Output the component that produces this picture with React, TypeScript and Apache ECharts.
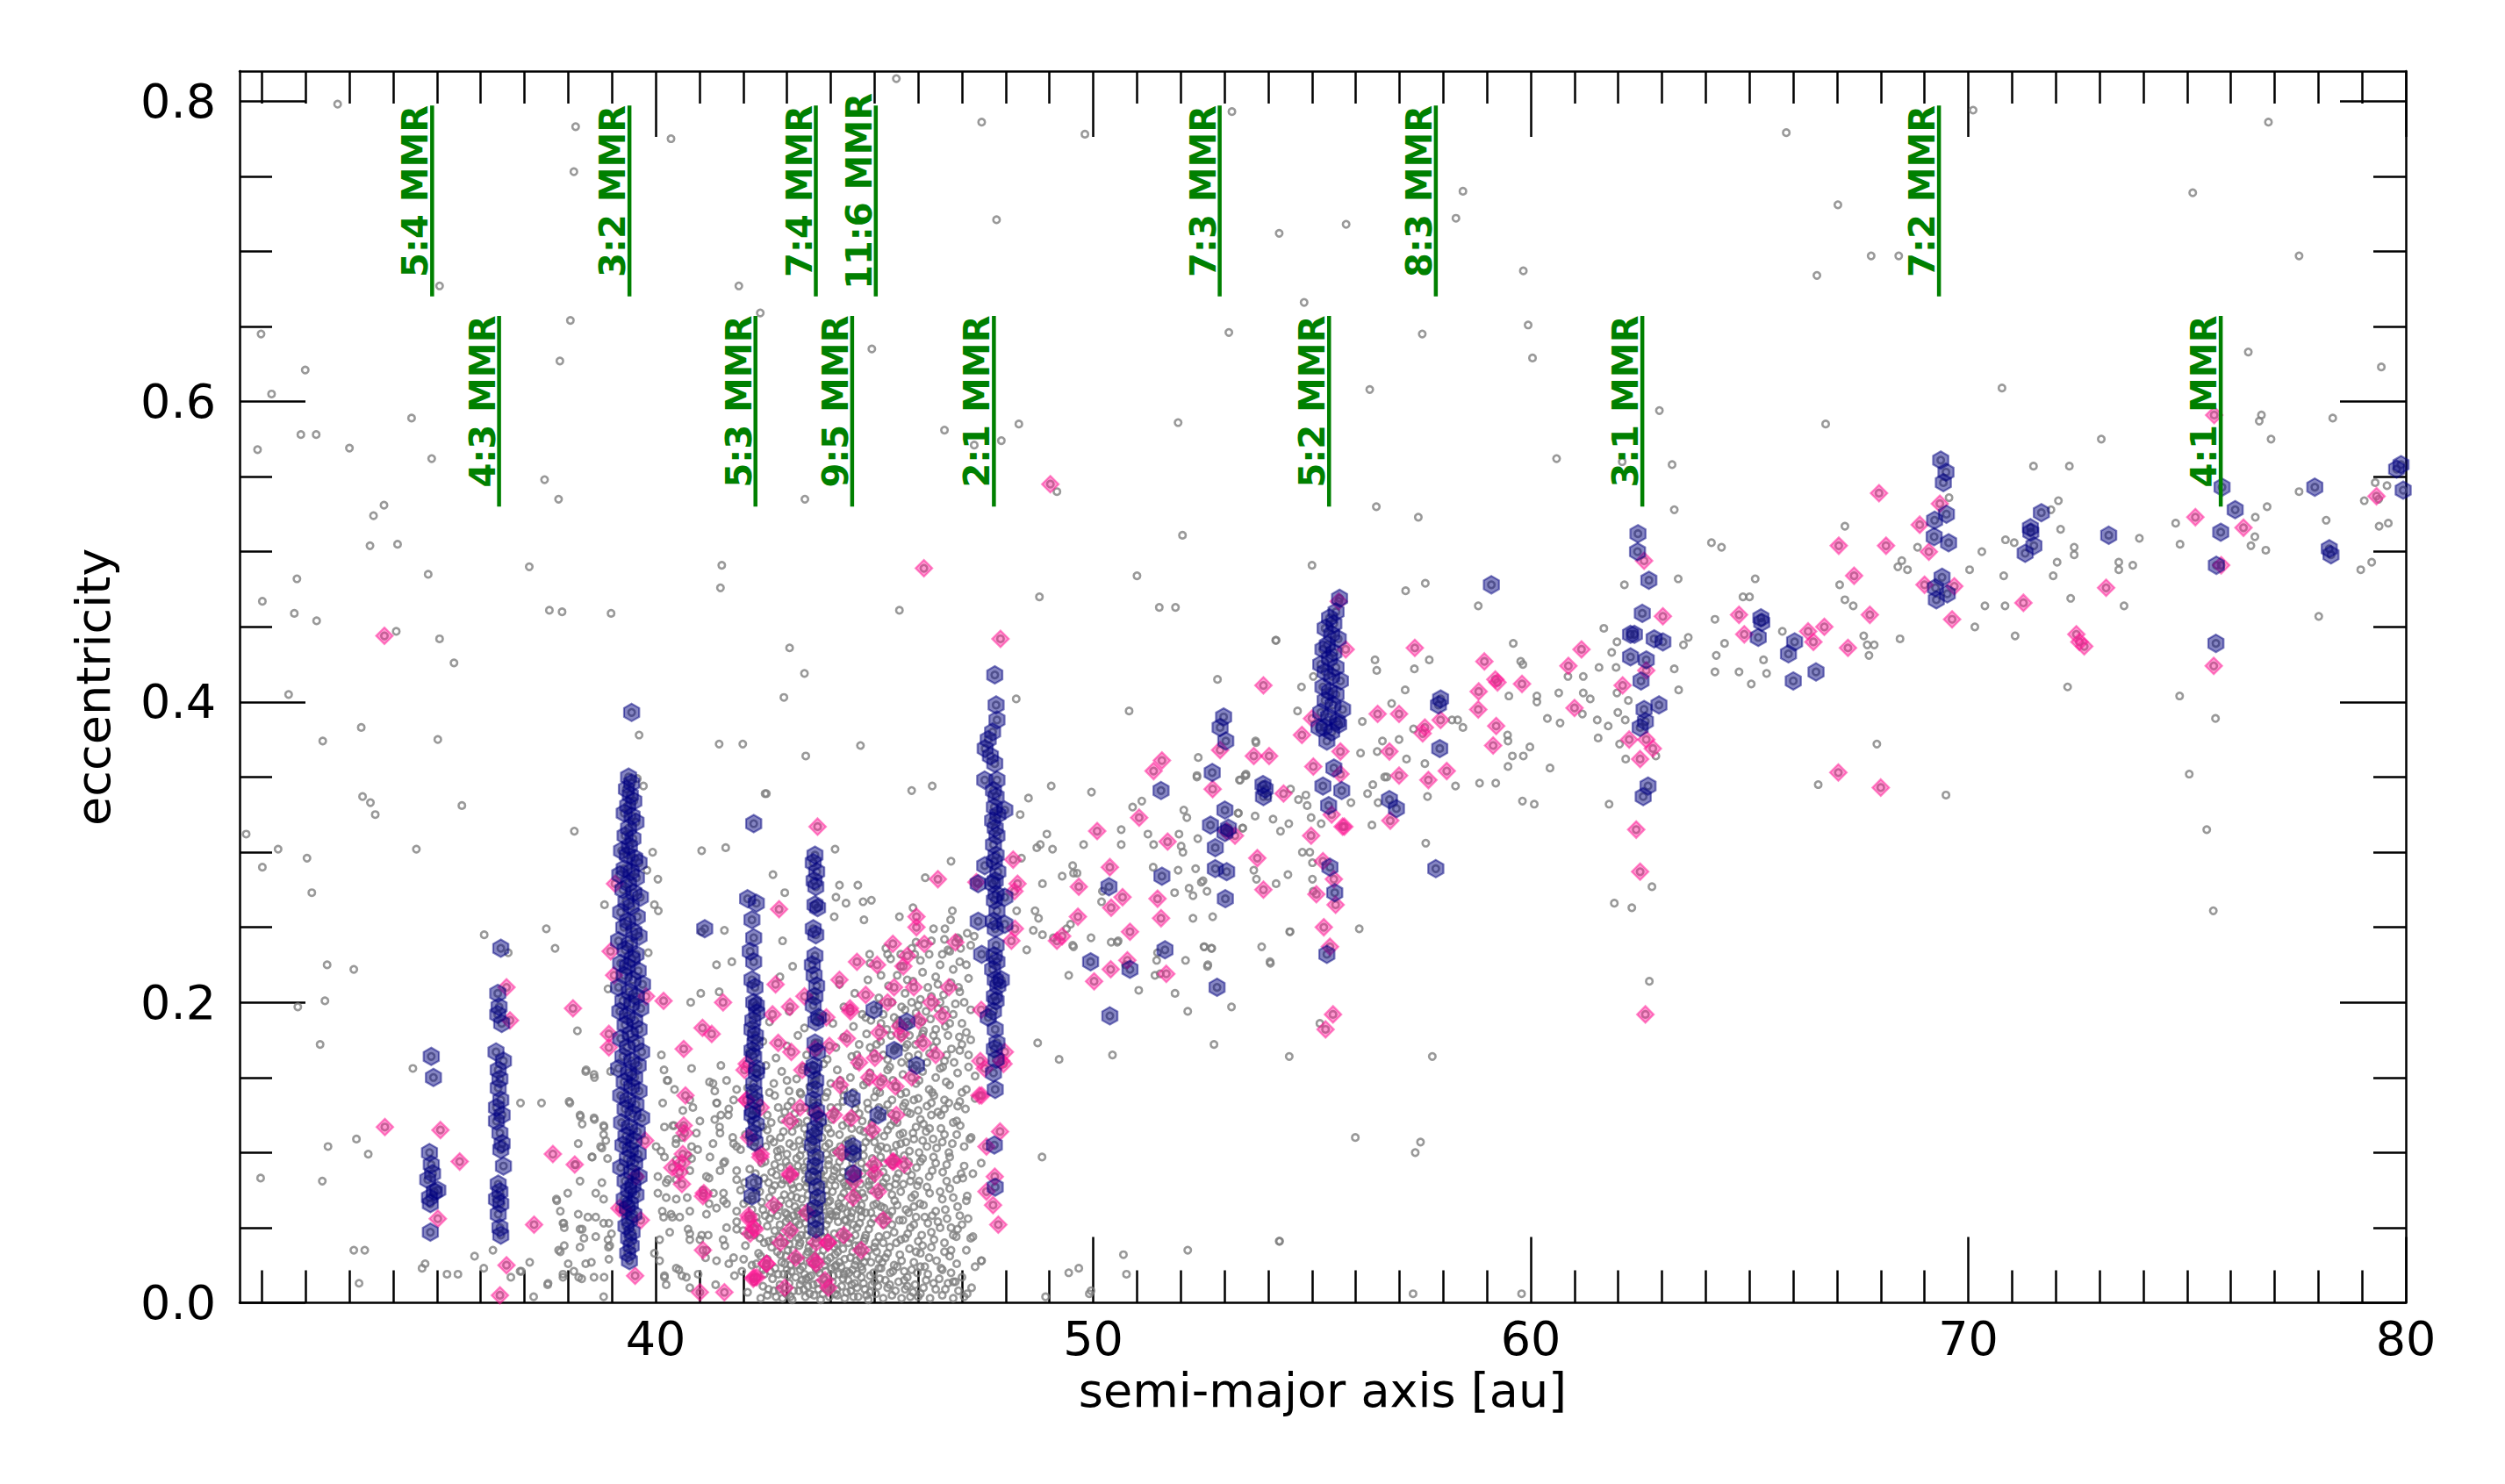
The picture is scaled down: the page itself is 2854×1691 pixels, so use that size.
import React, { useEffect, useRef } from "react";
import * as echarts from "echarts";

// ---------- axis / tick values ----------
const xMin = 30.49;
const xMax = 80;
const yMin = 0;
const yMax = 0.82;
const xMajorTicks = [40, 50, 60, 70, 80];
const xMinorTicks = [31, 32, 33, 34, 35, 36, 37, 38, 39, 41, 42, 43, 44, 45, 46, 47, 48, 49, 51, 52, 53, 54, 55, 56, 57, 58, 59, 61, 62, 63, 64, 65, 66, 67, 68, 69, 71, 72, 73, 74, 75, 76, 77, 78, 79];
const yMajorTicks = [0, 0.2, 0.4, 0.6, 0.8];
const yMinorTicks = [0.05, 0.1, 0.15, 0.25, 0.3, 0.35, 0.45, 0.5, 0.55, 0.65, 0.7, 0.75];

// ---------- mean-motion resonances ----------
const mmrLabels = ["5:4", "4:3", "3:2", "5:3", "7:4", "9:5", "11:6", "2:1", "7:3", "5:2", "8:3", "3:1", "7:2", "4:1"];
const mmrA = [34.89, 36.42, 39.4, 42.28, 43.66, 44.49, 45.03, 47.73, 52.89, 55.39, 57.83, 62.55, 69.33, 75.77];
const mmrRow = [0, 1, 0, 1, 0, 1, 0, 1, 0, 1, 0, 1, 0, 1];
const mmrLineLo = [0.67, 0.53];
const mmrLineHi = [0.797, 0.657];
const mmrTextMid = [0.74, 0.6];

// ---------- resonant objects (blue hexagons) ----------
const blue54 = [[34.87,0.164],[34.92,0.150],[34.83,0.100],[34.87,0.092],[34.90,0.086],[34.94,0.074],[34.83,0.070],[34.85,0.066],[34.85,0.047],[34.79,0.082],[35.02,0.075]];
const blue43 = [[36.46,0.236],[36.39,0.206],[36.42,0.197],[36.39,0.192],[36.48,0.186],[36.35,0.167],[36.52,0.161],[36.40,0.155],[36.44,0.149],[36.40,0.143],[36.46,0.135],[36.36,0.130],[36.49,0.125],[36.36,0.121],[36.44,0.113],[36.49,0.106],[36.46,0.102],[36.52,0.091],[36.40,0.079],[36.44,0.074],[36.36,0.069],[36.46,0.066],[36.40,0.059],[36.44,0.050],[36.46,0.045]];
const blue32 = [[39.38,0.350],[39.45,0.346],[39.33,0.342],[39.42,0.338],[39.50,0.334],[39.36,0.331],[39.28,0.326],[39.46,0.324],[39.55,0.320],[39.38,0.316],[39.30,0.311],[39.48,0.309],[39.40,0.304],
[39.22,0.301],[39.35,0.298],[39.52,0.296],[39.62,0.293],[39.28,0.289],[39.44,0.287],[39.18,0.285],[39.56,0.283],[39.38,0.279],[39.25,0.275],[39.50,0.273],[39.65,0.270],[39.32,0.267],[39.44,0.264],[39.20,0.260],[39.58,0.257],[39.36,0.254],[39.27,0.250],[39.50,0.247],[39.62,0.244],[39.15,0.241],[39.40,0.239],[39.30,0.235],[39.55,0.232],[39.46,0.229],
[39.20,0.226],[39.35,0.224],[39.60,0.221],[39.28,0.218],[39.48,0.215],[39.70,0.212],[39.15,0.210],[39.40,0.207],[39.56,0.204],[39.25,0.201],[39.45,0.199],[39.66,0.196],[39.18,0.194],[39.35,0.191],[39.52,0.188],[39.30,0.185],[39.62,0.182],[39.42,0.179],[39.20,0.176],[39.55,0.173],[39.35,0.170],[39.68,0.167],[39.25,0.164],[39.45,0.161],[39.60,0.158],[39.15,0.156],[39.38,0.153],[39.52,0.150],
[39.28,0.147],[39.45,0.144],[39.62,0.141],[39.20,0.138],[39.36,0.135],[39.55,0.132],[39.30,0.129],[39.48,0.126],[39.68,0.123],[39.22,0.120],[39.40,0.117],[39.58,0.114],[39.32,0.111],[39.50,0.108],[39.25,0.105],[39.42,0.102],[39.60,0.099],[39.35,0.096],[39.52,0.093],[39.20,0.090],[39.45,0.087],[39.62,0.084],[39.30,0.081],[39.48,0.078],[39.38,0.075],[39.55,0.072],[39.28,0.069],
[39.42,0.066],[39.35,0.063],[39.50,0.059],[39.40,0.055],[39.32,0.051],[39.46,0.047],[39.38,0.043],[39.44,0.038],[39.36,0.033],[39.40,0.028],
[39.45,0.393],[41.12,0.249],[42.24,0.319]];
const blue53 = [[42.10,0.269],[42.30,0.266],[42.20,0.255],[42.24,0.243],[42.16,0.234],[42.24,0.227],[42.20,0.215],[42.27,0.210],[42.24,0.200],[42.31,0.193],[42.20,0.182],[42.27,0.173],[42.24,0.164],[42.31,0.156],[42.24,0.146],[42.27,0.135],[42.20,0.125],[42.24,0.113],[42.27,0.107],[42.24,0.080],[42.20,0.071],
[42.30,0.198],[42.22,0.188],[42.28,0.178],[42.20,0.168],[42.30,0.153],[42.25,0.140],[42.22,0.128],[42.30,0.119]];
const blue74 = [[43.64,0.298],[43.60,0.293],[43.68,0.287],[43.62,0.281],[43.66,0.277],[43.64,0.265],[43.70,0.263],[43.60,0.249],[43.66,0.245],[43.64,0.231],[43.62,0.218],[43.68,0.211],[43.64,0.204],[43.60,0.198],[43.66,0.187],[43.64,0.173],[43.70,0.167],[43.62,0.158],[43.66,0.148],[43.64,0.142],[43.60,0.135],[43.68,0.128],[43.64,0.116],[43.62,0.111],[43.66,0.097],[43.64,0.091],[43.60,0.084],[43.68,0.077],[43.64,0.063],[43.66,0.049],
[43.58,0.225],[43.72,0.190],[43.58,0.155],[43.72,0.122],[43.58,0.105],[43.70,0.070],[43.66,0.056]];
const blue95 = [[44.51,0.104],[44.51,0.099],[44.51,0.086],[44.49,0.136],[45.08,0.125],[44.99,0.195],[45.74,0.187],[45.45,0.168],[45.96,0.158]];
const blue21 = [[47.75,0.359],[47.80,0.348],[47.72,0.341],[47.78,0.337],[47.74,0.330],[47.82,0.325],[47.70,0.321],[47.76,0.316],[47.80,0.311],[47.72,0.305],[47.78,0.298],[47.74,0.294],[47.82,0.287],[47.76,0.281],[47.70,0.279],[47.78,0.272],[47.74,0.268],[47.80,0.261],[47.72,0.254],[47.76,0.249],[47.78,0.238],[47.74,0.231],[47.80,0.227],[47.70,0.222],[47.76,0.215],[47.82,0.211],[47.74,0.204],[47.78,0.201],[47.72,0.194],[47.76,0.182],[47.80,0.173],[47.74,0.169],[47.78,0.162],[47.72,0.153],[47.76,0.142],[47.74,0.105],[47.76,0.077],
[47.37,0.279],[47.37,0.254],[47.98,0.328],[47.98,0.270],[47.98,0.252],[47.52,0.348],[47.52,0.291],[47.45,0.232],[47.90,0.215],[47.60,0.190],
[47.75,0.418],[47.78,0.398],[47.53,0.369],[47.60,0.375],[47.70,0.380],[47.80,0.388],[47.65,0.364]];
const blue52 = [[55.63,0.469],[55.55,0.460],[55.40,0.456],[55.50,0.452],[55.30,0.449],[55.45,0.445],[55.60,0.442],[55.35,0.438],[55.25,0.435],[55.50,0.433],[55.40,0.429],[55.20,0.425],[55.55,0.423],[55.30,0.420],[55.45,0.417],[55.65,0.414],[55.25,0.410],[55.40,0.407],[55.55,0.405],[55.30,0.401],[55.48,0.398],[55.70,0.395],[55.20,0.393],[55.38,0.390],[55.58,0.387],[55.28,0.383],[55.45,0.380],[55.61,0.385],[55.34,0.374],[55.16,0.383],
[55.38,0.331],[55.25,0.344],[55.50,0.356],[55.68,0.341],[55.41,0.290],[55.52,0.273],[55.34,0.232]];
const blueMid = [[52.98,0.390],[52.90,0.383],[53.03,0.374],[52.72,0.353],[53.01,0.328],[52.68,0.318],[53.09,0.316],[53.01,0.313],[52.79,0.303],[52.79,0.289],[53.05,0.287],[53.02,0.269],[52.83,0.210],[53.88,0.345],[53.93,0.342],[53.89,0.337],
[57.94,0.402],[57.89,0.398],[57.92,0.369],[57.83,0.289],[59.10,0.478],[56.77,0.335],[56.93,0.329],
[50.36,0.277],[51.55,0.341],[51.57,0.284],[51.64,0.235],[50.84,0.222],[49.94,0.227],[50.38,0.191]];
const blueFar = [[62.45,0.512],[62.44,0.500],[62.70,0.481],[62.55,0.459],[62.28,0.445],[62.37,0.445],[62.82,0.442],[63.02,0.440],[62.28,0.430],[62.64,0.428],[62.52,0.414],[62.93,0.398],[62.59,0.395],[62.62,0.387],[62.50,0.383],[62.68,0.344],[62.57,0.337],
[65.26,0.456],[65.28,0.453],[65.20,0.443],[66.03,0.440],[65.89,0.432],[66.00,0.414],[66.52,0.420],
[69.37,0.561],[69.49,0.553],[69.43,0.546],[69.50,0.525],[69.23,0.521],[69.55,0.506],[69.22,0.510],[69.40,0.483],[69.25,0.476],[69.52,0.472],[69.27,0.468],
[71.67,0.526],[71.42,0.516],[71.43,0.513],[71.50,0.504],[71.30,0.499],[73.21,0.511],
[75.80,0.543],[76.10,0.528],[75.77,0.513],[75.67,0.491],[75.66,0.439],[77.92,0.543],[78.25,0.502],[78.29,0.498],[79.79,0.555],[79.89,0.558],[79.94,0.541]];

// ---------- second class (pink diamonds) ----------
const pinkLeft = [[33.80,0.444],[33.81,0.117],[35.08,0.115],[35.52,0.094],[35.02,0.056],[36.59,0.210],[36.67,0.188],[36.59,0.025],[37.22,0.052],[38.11,0.196],[37.65,0.099],[38.15,0.092],[38.93,0.179],[38.93,0.170],[39.07,0.279],[39.78,0.204],[40.18,0.201],[41.54,0.200],[40.64,0.169],[41.07,0.183],[41.28,0.179],[40.68,0.138],[40.64,0.118],[40.66,0.113],[40.62,0.099],[40.60,0.093],[40.55,0.087],[39.76,0.108],[39.55,0.084],[41.08,0.071],[41.08,0.035],[39.53,0.018],[39.66,0.055],[39.28,0.062],[39.17,0.063],[42.12,0.058],[42.24,0.050],[42.16,0.046],[42.31,0.017],[42.39,0.097],[42.08,0.135],[42.08,0.159],[38.97,0.234],[39.05,0.218],
[36.44,0.005],[40.38,0.090],[40.60,0.079],[41.10,0.073],[41.01,0.007],[41.57,0.007],[42.25,0.017],[42.53,0.026],[43.07,0.086],[43.64,0.028],[43.93,0.040],[44.54,0.086],[44.99,0.092],[45.44,0.094]];
const pinkBelt = [[42.67,0.192],[43.07,0.197],[44.44,0.196],[42.80,0.173],[43.10,0.167],[43.64,0.169],[43.97,0.171],[44.37,0.176],[45.11,0.180],[45.58,0.184],[46.01,0.188],[46.55,0.191],[46.11,0.173],[45.61,0.179],[45.01,0.163],[44.88,0.150],[45.14,0.147],[45.48,0.144],[44.21,0.145],[42.03,0.155],[42.07,0.135],[42.40,0.130],[43.07,0.121],[43.67,0.126],[44.07,0.125],[44.47,0.123],[42.13,0.110],[42.40,0.099],[43.07,0.085],[44.54,0.081],[45.01,0.086],[45.41,0.094],[45.68,0.092],[45.08,0.074],[44.51,0.070],[42.13,0.056],[42.27,0.049],[43.07,0.048],[43.67,0.040],[43.94,0.040],[43.67,0.026],[42.54,0.026],[42.23,0.016],[43.87,0.015],[43.40,0.204],
[43.70,0.317],[42.82,0.262],[46.45,0.282],[45.96,0.257],[45.96,0.250],[45.42,0.239],[46.14,0.239],[44.60,0.227],[45.06,0.225],[45.66,0.224],[45.75,0.231],[45.45,0.210],[42.74,0.212],[44.45,0.194],[46.13,0.489],
[43.30,0.130],[43.90,0.190],[44.20,0.215],[44.80,0.205],[45.30,0.200],[45.90,0.210],[46.30,0.200],[44.65,0.160],[43.45,0.060],[43.20,0.030],[42.85,0.040],[42.70,0.065],[44.25,0.100],[44.95,0.115],[45.50,0.125],[45.85,0.150],[46.40,0.165],[43.95,0.010],[44.30,0.045],[42.95,0.010],[45.20,0.055],[44.70,0.035],[43.35,0.155],[46.70,0.210],[46.85,0.240]];
const pink21 = [[47.33,0.280],[48.27,0.279],[48.17,0.295],[47.44,0.195],[47.98,0.167],[47.90,0.161],[47.52,0.156],[47.40,0.138],[47.87,0.114],[47.56,0.104],[47.75,0.084],[47.56,0.074],[47.71,0.065],[47.83,0.052],[48.13,0.241],[48.21,0.249],[48.20,0.274],[47.88,0.442],[47.42,0.161],[47.45,0.138],[47.95,0.159]];
const pinkRight = [[49.02,0.545],[50.09,0.314],[49.67,0.277],[49.65,0.257],[51.05,0.323],[50.38,0.290],[50.67,0.270],[50.41,0.263],[50.84,0.247],[50.78,0.228],[50.40,0.222],[50.02,0.214],[49.17,0.241],[49.29,0.244],[51.47,0.269],[51.55,0.256],[51.70,0.307],[51.38,0.354],[51.67,0.219],[52.73,0.342],[53.75,0.296],[53.89,0.275],[54.35,0.339],[53.24,0.311],[53.05,0.314],
[53.89,0.411],[51.57,0.361],[52.90,0.368],[53.67,0.364],[54.02,0.364],
[55.27,0.250],[55.41,0.237],[55.48,0.192],[55.31,0.182],
[55.61,0.467],[55.77,0.435],[55.00,0.389],[54.77,0.378],[55.65,0.367],[55.03,0.357],[55.65,0.352],[55.45,0.325],[55.70,0.317],[55.74,0.317],[54.98,0.311],[55.25,0.294],[55.50,0.282],[55.10,0.272],[55.54,0.265],
[57.35,0.436],[56.50,0.392],[56.99,0.392],[56.77,0.367],[56.99,0.351],[57.66,0.348],[58.08,0.354],[57.94,0.388],[57.58,0.383],[57.53,0.379],[56.79,0.321],[58.94,0.427],[58.81,0.407],[59.19,0.415],[59.24,0.413],[59.80,0.412],[58.80,0.395],[59.21,0.384],[59.14,0.371],[60.86,0.424],[61.16,0.435],[61.00,0.396],
[62.59,0.494],[63.02,0.457],[62.10,0.411],[62.64,0.421],[62.25,0.375],[62.64,0.375],[62.79,0.369],[62.50,0.362],[62.41,0.315],[62.50,0.287],[62.62,0.192],
[64.76,0.458],[64.88,0.445],[66.34,0.447],[66.46,0.440],[66.71,0.450],[67.04,0.504],[67.03,0.353],
[67.96,0.539],[69.35,0.532],[68.89,0.518],[69.10,0.500],[69.00,0.478],[69.68,0.477],[69.63,0.455],[71.26,0.466],[72.47,0.445],[72.54,0.440],[72.65,0.437],[73.15,0.476],[75.19,0.523],[76.29,0.516],[75.78,0.491],[75.61,0.424],[79.33,0.537],[67.39,0.484],[68.12,0.504],[67.75,0.458],[67.25,0.436],[68.00,0.343],[75.62,0.591]];

// ---------- all other objects (grey circles) ----------
const grayUpper = [[32.73,0.798],[38.17,0.783],[40.35,0.775],[38.13,0.753],[35.06,0.677],[41.90,0.677],[42.39,0.659],[30.98,0.645],[38.05,0.654],[44.94,0.635],[31.99,0.621],[37.81,0.627],[31.22,0.605],[34.42,0.589],[31.89,0.578],[32.24,0.578],[30.90,0.568],[33.00,0.569],[34.88,0.562],[37.46,0.548],[37.78,0.535],[33.79,0.531],[33.55,0.524],[43.41,0.535],
[45.50,0.815],[47.45,0.786],[49.81,0.778],[53.17,0.793],[47.79,0.721],[54.25,0.712],[55.78,0.718],[58.45,0.740],[58.29,0.722],[59.83,0.687],[54.82,0.666],[53.10,0.646],[57.52,0.645],[59.94,0.651],[60.04,0.629],[56.32,0.608],[62.94,0.594],[46.60,0.581],[48.30,0.585],[47.28,0.571],[47.90,0.574],[51.94,0.586],[60.59,0.562],[62.09,0.560],[63.23,0.558],[49.17,0.540],[56.47,0.530],[57.43,0.523],[63.28,0.528],
[65.84,0.779],[70.11,0.794],[76.86,0.786],[67.02,0.731],[75.13,0.739],[67.78,0.697],[68.41,0.697],[66.54,0.684],[77.56,0.697],[76.40,0.633],[79.44,0.623],[70.77,0.609],[76.70,0.591],[76.65,0.587],[78.33,0.589],[76.92,0.575],[66.74,0.585],[73.04,0.575],[71.49,0.557],[72.31,0.557],[72.06,0.534],[71.89,0.528],[77.56,0.540],[79.30,0.546],[79.57,0.544],[79.05,0.534],[79.38,0.535],[76.56,0.523],[76.83,0.530],[74.74,0.519],[78.18,0.521],[79.39,0.517],[79.60,0.519]];
const grayMid = [[52.04,0.511],[41.51,0.491],[41.48,0.476],[51.00,0.484],[45.57,0.461],[48.77,0.470],[51.51,0.463],[51.88,0.463],[43.06,0.436],[43.40,0.419],[42.93,0.403],[54.18,0.441],[52.84,0.415],[50.82,0.394],[48.24,0.402],[39.62,0.378],[41.45,0.372],[41.99,0.372],[44.68,0.371],[43.43,0.364],[53.72,0.373],[52.40,0.363],[52.37,0.350],[53.47,0.351],
[33.47,0.504],[34.10,0.505],[37.11,0.490],[31.80,0.482],[34.80,0.485],[31.01,0.467],[31.74,0.459],[32.25,0.454],[37.57,0.461],[37.86,0.460],[38.98,0.459],[34.07,0.447],[35.06,0.442],[35.39,0.426],[31.61,0.405],[33.27,0.383],[32.39,0.374],[35.02,0.375],[33.30,0.337],[33.48,0.333],[33.59,0.325],[35.57,0.331],[30.64,0.312],[31.37,0.302],[31.01,0.290],[32.03,0.296],[32.14,0.273],[34.53,0.302],[38.14,0.314],[36.08,0.245],[37.50,0.249],[37.70,0.236],[38.83,0.265]];
const grayLeft = [[32.49,0.225],[33.10,0.222],[32.44,0.201],[31.82,0.197],[32.33,0.172],[34.45,0.156],[32.51,0.104],[33.16,0.109],[33.43,0.099],[30.97,0.083],[32.38,0.081],[33.10,0.035],[33.35,0.035],[33.22,0.013],[34.66,0.023],[34.73,0.026],[35.23,0.019],[35.48,0.019],[35.86,0.031],[36.07,0.023],[36.28,0.035],[36.63,0.233],[36.91,0.133],[37.39,0.133],[38.21,0.181],[38.40,0.154],[38.60,0.150],[38.97,0.154],[38.91,0.209],[39.58,0.349],[39.72,0.344],[39.93,0.300],[39.80,0.288],[40.05,0.282],[39.97,0.265],[40.06,0.261],[39.83,0.233],[41.05,0.301],[41.60,0.303],[41.57,0.248],[41.05,0.247],[41.39,0.225],[41.74,0.227],[42.50,0.339],[41.03,0.206],[40.80,0.200],[41.45,0.207],[40.13,0.165],[40.82,0.156],[40.26,0.148],
[36.93,0.021],[37.12,0.027],[37.21,0.004],[37.54,0.013],[37.82,0.034],[38.02,0.134],[38.27,0.125],[38.41,0.155],[38.59,0.152],[38.59,0.123],[38.32,0.119],[38.81,0.118],[38.81,0.112],[38.86,0.108],[38.23,0.106],[38.54,0.097],[38.90,0.096],[38.77,0.103],[38.27,0.081],[38.77,0.080],[37.73,0.069],[37.82,0.061],[37.88,0.053],[37.91,0.050],[38.27,0.049],[38.63,0.073],[38.81,0.069],[38.45,0.057],[38.81,0.053],[37.91,0.038],[38.27,0.037],[38.36,0.043],[38.63,0.044],[38.91,0.042],[38.95,0.038],[38.00,0.026],[38.40,0.026],[38.13,0.021],[37.88,0.017],[38.31,0.016],[38.81,0.004],
[38.60,0.122],[38.82,0.117],[38.74,0.104],[38.55,0.097],[38.04,0.133],[38.28,0.124],[38.17,0.092],[37.99,0.073],[37.74,0.068],[38.23,0.059],[37.90,0.053],[38.32,0.049],[38.63,0.057],[38.93,0.053],[38.99,0.046],[38.92,0.037],[38.53,0.027],[38.93,0.029],[37.78,0.035],[38.24,0.017],[38.59,0.017],[38.82,0.017],[37.88,0.019],[36.90,0.021],[36.69,0.017],[37.53,0.012]];
const grayInner = [[40.19,0.155],[41.49,0.158],[40.28,0.148],[40.42,0.118],[40.60,0.116],[40.60,0.110],[40.46,0.106],[40.20,0.097],[40.74,0.098],[40.24,0.080],[40.15,0.061],[40.78,0.061],[40.38,0.057],[39.97,0.033],[40.20,0.018],[40.24,0.012],[40.53,0.022],[40.60,0.018],[40.96,0.102],[41.22,0.083],[41.32,0.073],[41.22,0.066],[41.55,0.068],[40.74,0.049],[41.05,0.045],[40.78,0.042],[41.14,0.030],[41.58,0.038],[41.67,0.026],[41.80,0.018],[41.37,0.012],[40.78,0.010],
[41.23,0.147],[41.35,0.141],[41.40,0.133],[41.49,0.125],[41.46,0.117],[41.67,0.129],[41.76,0.110],[41.94,0.102],[41.58,0.094],[41.85,0.088],[42.03,0.080],[41.94,0.075],[42.21,0.069],[41.85,0.061],[42.30,0.057],[41.85,0.049],[42.12,0.045],
[40.01,0.104],[40.20,0.117],[40.39,0.118],[40.47,0.109],[40.12,0.101],[40.05,0.084],[40.28,0.082],[40.47,0.082],[40.05,0.073],[40.24,0.070],[40.47,0.069],[40.18,0.057],[40.35,0.059],[40.55,0.057],[40.09,0.042],[40.32,0.047],[40.78,0.046],[40.09,0.028],[40.20,0.017],[40.47,0.023],[40.70,0.017],[40.97,0.019],[41.01,0.042],[41.20,0.045],[41.16,0.035],[41.54,0.042],[41.78,0.030],[42.01,0.029],[41.39,0.028],[41.97,0.021],[40.72,0.070],[41.08,0.075],[41.16,0.059],[41.39,0.063],[41.62,0.066],[42.01,0.066],[41.85,0.054],[41.62,0.050],[42.16,0.046],[41.16,0.084],[41.47,0.088],[41.85,0.082],[41.55,0.073],[41.24,0.097],[41.55,0.093],[41.85,0.104],[41.31,0.106],[41.47,0.113],[41.78,0.106],[41.35,0.122],[41.66,0.125],[41.39,0.133],[41.78,0.135],[41.31,0.146],[41.62,0.148],[41.85,0.142],[40.85,0.130],[41.01,0.121],[40.62,0.128],[40.16,0.133],[40.43,0.142],[40.78,0.135],[40.93,0.113],[40.82,0.104],[40.82,0.096],[40.47,0.095],[40.78,0.088]];
const grayBelt = [[42.1,0.007],[42.25,0.014],[42.4,0.003],[42.48,0.019],[42.58,0.009],[42.67,0.016],[42.75,0.004],[42.84,0.012],[42.92,0.019],[42.98,0.006],[43.05,0.013],[43.12,0.002],[43.2,0.017],[43.27,0.008],[43.34,0.015],[43.42,0.004],[43.48,0.011],[43.55,0.018],[43.62,0.005],[43.7,0.013],[43.77,0.002],[43.84,0.016],[43.9,0.009],[43.97,0.004],[44.04,0.014],[44.1,0.006],[44.18,0.019],[44.25,0.011],[44.32,0.003],[44.4,0.015],[44.46,0.008],[44.55,0.013],[44.63,0.004],[44.7,0.017],[44.78,0.009],[44.86,0.002],[44.94,0.012],[45.03,0.006],[45.12,0.016],[45.2,0.003],[45.3,0.01],[45.4,0.005],[45.55,0.014],[45.62,0.003],[45.7,0.009],[45.82,0.004],[45.93,0.012],[46.05,0.006],[46.18,0.015],[46.27,0.003],[46.4,0.009],[46.55,0.005],[46.68,0.013],[46.8,0.003],[46.92,0.008],[47.05,0.004],[47.22,0.01],
[42.05,0.038],[42.2,0.025],[42.35,0.033],[42.45,0.022],[42.55,0.029],[42.65,0.037],[42.73,0.023],[42.85,0.032],[42.95,0.026],[43.02,0.035],[43.1,0.021],[43.18,0.029],[43.28,0.038],[43.36,0.024],[43.45,0.032],[43.52,0.027],[43.6,0.036],[43.68,0.022],[43.78,0.031],[43.86,0.025],[43.95,0.038],[44.02,0.023],[44.1,0.032],[44.2,0.027],[44.28,0.036],[44.36,0.021],[44.45,0.03],[44.55,0.025],[44.63,0.035],[44.72,0.022],[44.82,0.031],[44.92,0.027],[45.05,0.034],[45.15,0.023],[45.25,0.03],[45.35,0.037],[45.45,0.025],[45.58,0.032],[45.68,0.021],[45.8,0.036],[45.9,0.027],[46.05,0.033],[46.15,0.024],[46.3,0.037],[46.42,0.028],[46.55,0.022],[46.72,0.031],[46.88,0.026],[47.1,0.035],[47.3,0.024],
[42.0,0.048],[42.18,0.056],[42.38,0.043],[42.55,0.051],[42.68,0.042],[42.78,0.058],[42.9,0.047],[42.98,0.054],[43.07,0.043],[43.16,0.05],[43.25,0.059],[43.33,0.045],[43.42,0.053],[43.52,0.041],[43.6,0.048],[43.7,0.056],[43.8,0.044],[43.9,0.052],[44.0,0.059],[44.08,0.046],[44.17,0.054],[44.27,0.042],[44.37,0.05],[44.46,0.057],[44.56,0.045],[44.66,0.053],[44.76,0.041],[44.87,0.049],[44.98,0.056],[45.1,0.044],[45.22,0.052],[45.33,0.058],[45.45,0.047],[45.57,0.055],[45.7,0.043],[45.82,0.05],[45.95,0.057],[46.08,0.045],[46.22,0.053],[46.36,0.042],[46.5,0.05],[46.66,0.056],[46.8,0.045],[47.0,0.052],[47.2,0.043],
[42.1,0.068],[42.3,0.075],[42.45,0.062],[42.6,0.07],[42.72,0.078],[42.82,0.064],[42.94,0.072],[43.05,0.066],[43.14,0.076],[43.24,0.061],[43.34,0.069],[43.44,0.077],[43.54,0.064],[43.64,0.072],[43.74,0.062],[43.84,0.079],[43.94,0.067],[44.04,0.074],[44.14,0.061],[44.24,0.07],[44.34,0.078],[44.44,0.065],[44.55,0.073],[44.65,0.062],[44.76,0.07],[44.87,0.078],[44.98,0.065],[45.1,0.072],[45.22,0.063],[45.34,0.077],[45.46,0.068],[45.6,0.074],[45.72,0.062],[45.85,0.07],[45.98,0.078],[46.12,0.065],[46.26,0.073],[46.4,0.061],[46.55,0.069],[46.72,0.076],[46.9,0.064],[47.12,0.071],
[42.15,0.089],[42.35,0.081],[42.5,0.094],[42.65,0.087],[42.8,0.097],[42.92,0.082],[43.05,0.091],[43.18,0.084],[43.3,0.098],[43.42,0.088],[43.55,0.081],[43.66,0.093],[43.78,0.086],[43.9,0.099],[44.02,0.082],[44.14,0.09],[44.26,0.097],[44.38,0.084],[44.5,0.093],[44.62,0.086],[44.75,0.098],[44.88,0.081],[45.0,0.09],[45.14,0.097],[45.27,0.083],[45.4,0.092],[45.55,0.086],[45.68,0.098],[45.82,0.081],[45.96,0.09],[46.1,0.096],[46.25,0.084],[46.4,0.093],[46.56,0.087],[46.72,0.097],[46.88,0.082],[47.05,0.091],[47.25,0.086],
[42.05,0.112],[42.25,0.104],[42.45,0.117],[42.62,0.109],[42.78,0.101],[42.92,0.114],[43.06,0.106],[43.2,0.119],[43.34,0.102],[43.47,0.112],[43.6,0.107],[43.74,0.117],[43.88,0.104],[44.0,0.113],[44.13,0.101],[44.27,0.118],[44.4,0.108],[44.53,0.103],[44.67,0.115],[44.8,0.107],[44.94,0.119],[45.08,0.102],[45.22,0.111],[45.37,0.118],[45.5,0.105],[45.65,0.113],[45.8,0.101],[45.95,0.117],[46.1,0.108],[46.26,0.116],[46.42,0.103],[46.6,0.112],[46.78,0.106],[46.96,0.118],[47.18,0.109],
[42.18,0.121],[42.38,0.133],[42.55,0.125],[42.72,0.138],[42.88,0.122],[43.02,0.131],[43.18,0.126],[43.32,0.139],[43.46,0.121],[43.6,0.133],[43.74,0.125],[43.88,0.137],[44.02,0.122],[44.16,0.13],[44.3,0.138],[44.44,0.124],[44.58,0.133],[44.72,0.121],[44.86,0.129],[45.0,0.137],[45.15,0.124],[45.3,0.132],[45.45,0.121],[45.6,0.139],[45.75,0.127],[45.9,0.135],[46.05,0.122],[46.2,0.131],[46.36,0.138],[46.52,0.125],[46.7,0.133],[46.88,0.121],[47.08,0.129],[47.3,0.136],
[42.1,0.143],[42.32,0.152],[42.52,0.158],[42.7,0.146],[42.88,0.154],[43.05,0.141],[43.22,0.149],[43.38,0.157],[43.52,0.144],[43.68,0.152],[43.84,0.159],[44.0,0.146],[44.15,0.155],[44.3,0.142],[44.45,0.15],[44.6,0.158],[44.75,0.145],[44.9,0.153],[45.05,0.141],[45.2,0.149],[45.35,0.157],[45.5,0.144],[45.65,0.152],[45.8,0.159],[45.95,0.146],[46.1,0.154],[46.25,0.142],[46.4,0.15],[46.56,0.157],[46.72,0.145],[46.9,0.153],[47.1,0.142],[47.3,0.151],
[42.15,0.167],[42.45,0.174],[42.75,0.163],[43.0,0.171],[43.25,0.178],[43.45,0.165],[43.7,0.173],[43.92,0.162],[44.12,0.17],[44.3,0.177],[44.48,0.164],[44.65,0.172],[44.82,0.179],[44.98,0.166],[45.14,0.174],[45.3,0.162],[45.46,0.169],[45.62,0.177],[45.78,0.164],[45.94,0.172],[46.1,0.179],[46.26,0.166],[46.42,0.174],[46.6,0.161],[46.76,0.169],[46.94,0.177],[47.15,0.165],
[42.6,0.187],[43.05,0.194],[43.4,0.183],[43.75,0.191],[44.05,0.186],[44.3,0.197],[44.52,0.184],[44.72,0.192],[44.92,0.188],[45.1,0.198],[45.28,0.182],[45.45,0.19],[45.62,0.197],[45.78,0.185],[45.95,0.193],[46.12,0.181],[46.28,0.189],[46.45,0.196],[46.62,0.184],[46.8,0.192],[47.0,0.186],[47.2,0.195],
[43.6,0.204],[44.2,0.212],[44.55,0.206],[44.85,0.215],[45.1,0.203],[45.32,0.211],[45.52,0.218],[45.7,0.206],[45.88,0.214],[46.05,0.202],[46.22,0.21],[46.4,0.217],[46.58,0.205],[46.75,0.213],[46.95,0.207],[47.15,0.216],
[44.9,0.226],[45.3,0.232],[45.6,0.224],[45.85,0.236],[46.05,0.228],[46.3,0.241],[46.5,0.225],[46.72,0.234],[46.95,0.227],[47.2,0.238],
[43.15,0.008],[43.3,0.022],[43.45,0.045],[43.58,0.062],[43.72,0.085],[43.85,0.04],[43.98,0.068],[44.12,0.025],[44.22,0.083],[44.35,0.055],[44.48,0.012],[44.6,0.072],[43.22,0.07],[43.38,0.09],[43.5,0.017],[43.65,0.03],[43.82,0.058],[43.95,0.092],[44.08,0.037],[44.2,0.064],[44.33,0.098],[44.45,0.043],[44.58,0.028],[44.7,0.061],[44.82,0.09],[43.28,0.052],[43.9,0.075],[44.15,0.005],[44.4,0.078],[44.65,0.038]];
const grayBeltInfill = [[42.3,0.026],[42.62,0.021],[42.88,0.027],[43.08,0.025],[43.24,0.03],[43.4,0.019],[43.58,0.026],[43.74,0.02],[43.92,0.028],[44.06,0.018],[44.24,0.024],[44.42,0.02],[44.6,0.019],[44.76,0.027],[44.98,0.02],[45.18,0.027],[45.36,0.02],[45.52,0.024],[45.75,0.017],[45.98,0.02],[46.22,0.019],[46.48,0.016],[46.75,0.02],[47.0,0.017],
[42.25,0.045],[42.48,0.04],[42.72,0.048],[42.94,0.04],[43.12,0.047],[43.3,0.04],[43.48,0.049],[43.66,0.043],[43.86,0.047],[44.04,0.041],[44.22,0.047],[44.4,0.04],[44.6,0.05],[44.8,0.045],[45.02,0.04],[45.28,0.045],[45.5,0.04],[45.76,0.046],[46.0,0.041],[46.3,0.047],[46.6,0.04],[46.9,0.049],
[42.2,0.062],[42.42,0.067],[42.65,0.06],[42.86,0.068],[43.0,0.059],[43.18,0.064],[43.4,0.06],[43.58,0.068],[43.78,0.066],[43.98,0.061],[44.18,0.066],[44.38,0.06],[44.58,0.066],[44.8,0.06],[45.05,0.066],[45.28,0.058],[45.52,0.065],[45.78,0.06],[46.04,0.066],[46.32,0.058],[46.62,0.062],[46.95,0.058],
[42.28,0.086],[42.58,0.08],[42.86,0.09],[43.1,0.079],[43.25,0.091],[43.48,0.08],[43.6,0.088],[43.85,0.081],[44.08,0.088],[44.3,0.08],[44.45,0.089],[44.68,0.079],[44.95,0.085],[45.2,0.08],[45.48,0.079],[45.75,0.088],[46.02,0.081],[46.32,0.088],[46.65,0.081],[46.98,0.086],
[42.35,0.1],[42.7,0.107],[43.0,0.099],[43.28,0.108],[43.54,0.1],[43.8,0.11],[44.06,0.1],[44.34,0.106],[44.6,0.098],[44.88,0.11],[45.15,0.104],[45.44,0.1],[45.72,0.107],[46.02,0.1],[46.34,0.109],[46.7,0.1],[47.05,0.104],
[42.3,0.128],[42.64,0.12],[42.95,0.127],[43.26,0.12],[43.55,0.127],[43.82,0.12],[44.1,0.127],[44.38,0.12],[44.65,0.126],[44.95,0.12],[45.22,0.128],[45.52,0.12],[45.82,0.126],[46.12,0.119],[46.45,0.127],[46.8,0.12],
[42.6,0.14],[43.0,0.148],[43.3,0.14],[43.62,0.147],[43.92,0.14],[44.22,0.148],[44.52,0.14],[44.82,0.147],[45.12,0.14],[45.42,0.148],[45.72,0.14],[46.02,0.148],[46.32,0.14],[46.64,0.147],[47.0,0.14],
[45.05,0.172],[45.38,0.178],[45.7,0.17],[46.0,0.165],[46.35,0.17],[46.68,0.178],[47.0,0.172],[45.2,0.192],[45.55,0.188],[45.85,0.2],[46.18,0.194],[46.5,0.2],[46.85,0.199],[47.1,0.18]];
const grayBeltCore = [[42.45,0.011],[42.7,0.008],[42.9,0.003],[43.02,0.018],[43.38,0.009],[43.6,0.012],[43.82,0.006],[44.0,0.01],[44.28,0.016],[44.52,0.004],[44.75,0.013],[44.9,0.007],[45.08,0.011],[45.25,0.015],[45.48,0.008],[45.68,0.015],[45.88,0.007],[46.12,0.01],[46.35,0.013],[46.62,0.009],[46.85,0.014],[47.12,0.006],
[42.4,0.031],[42.78,0.034],[42.98,0.031],[43.14,0.035],[43.32,0.028],[43.48,0.034],[43.63,0.031],[43.83,0.035],[43.99,0.03],[44.16,0.034],[44.32,0.029],[44.5,0.034],[44.68,0.03],[44.87,0.035],[45.1,0.029],[45.3,0.033],[45.62,0.028],[45.95,0.034],[46.25,0.03],[46.6,0.034],
[42.32,0.053],[42.6,0.056],[42.84,0.052],[43.04,0.056],[43.2,0.054],[43.37,0.057],[43.56,0.055],[43.75,0.051],[43.95,0.055],[44.12,0.058],[44.32,0.055],[44.52,0.052],[44.7,0.057],[44.92,0.053],[45.16,0.057],[45.4,0.052],[45.65,0.055],[45.9,0.052],[46.15,0.057],[46.45,0.054],[46.75,0.05],
[42.38,0.074],[42.66,0.075],[42.88,0.079],[43.1,0.071],[43.28,0.077],[43.48,0.072],[43.7,0.078],[43.9,0.071],[44.1,0.078],[44.3,0.073],[44.5,0.077],[44.72,0.073],[44.92,0.075],[45.16,0.077],[45.4,0.072],[45.66,0.079],[45.92,0.072],[46.2,0.077],[46.5,0.074],[46.8,0.07],
[42.42,0.093],[42.72,0.092],[42.98,0.094],[43.22,0.096],[43.46,0.094],[43.7,0.097],[43.95,0.095],[44.2,0.094],[44.45,0.097],[44.7,0.093],[44.95,0.096],[45.22,0.093],[45.5,0.096],[45.78,0.094],[46.05,0.094],[46.35,0.097],[46.65,0.092],
[42.55,0.115],[42.85,0.11],[43.12,0.114],[43.4,0.116],[43.66,0.113],[43.94,0.116],[44.2,0.112],[44.48,0.116],[44.76,0.114],[45.02,0.112],[45.3,0.115],[45.58,0.112],[45.88,0.113],[46.18,0.114],[46.52,0.116],[46.88,0.112],
[45.4,0.135],[45.7,0.133],[46.0,0.136],[46.3,0.133],[46.6,0.135],[46.95,0.134],[45.3,0.155],[45.62,0.16],[45.9,0.156],[46.2,0.16],[46.5,0.156],[46.82,0.16],[47.15,0.157],[45.5,0.185],[45.8,0.178],[46.08,0.187],[46.4,0.182],[46.72,0.186],[47.05,0.2],[45.75,0.215],[46.1,0.22],[46.45,0.212],[46.8,0.222],[47.1,0.225]];
const grayBeltDense = [[42.55,0.005],[42.82,0.009],[43.08,0.004],[43.3,0.012],[43.52,0.006],[43.72,0.009],[43.92,0.013],[44.14,0.009],[44.36,0.007],[44.6,0.01],[44.82,0.005],[45.0,0.014],[45.35,0.012],[45.75,0.011],[46.0,0.004],
[42.52,0.024],[42.8,0.019],[43.0,0.022],[43.22,0.025],[43.44,0.016],[43.66,0.023],[43.88,0.021],[44.1,0.024],[44.3,0.019],[44.5,0.022],[44.7,0.024],[44.9,0.018],[45.1,0.023],[45.42,0.021],[45.85,0.022],
[42.58,0.041],[42.82,0.044],[43.05,0.039],[43.26,0.043],[43.5,0.037],[43.72,0.045],[43.94,0.043],[44.14,0.039],[44.34,0.044],[44.56,0.038],[44.78,0.043],[45.0,0.037],[45.2,0.04],[45.6,0.042],[46.1,0.038],
[42.5,0.058],[42.74,0.063],[42.96,0.06],[43.15,0.058],[43.36,0.063],[43.6,0.059],[43.82,0.064],[44.04,0.058],[44.26,0.063],[44.48,0.06],[44.7,0.065],[44.92,0.06],[45.15,0.064],[45.4,0.061],[45.9,0.064],
[42.48,0.083],[42.76,0.085],[43.0,0.082],[43.2,0.087],[43.42,0.082],[43.62,0.085],[43.84,0.088],[44.06,0.084],[44.28,0.087],[44.5,0.082],[44.72,0.086],[44.95,0.082],[45.2,0.087],[45.5,0.083],[45.85,0.085],
[42.52,0.104],[42.85,0.102],[43.15,0.104],[43.42,0.107],[43.7,0.102],[43.96,0.106],[44.22,0.104],[44.48,0.109],[44.74,0.103],[45.0,0.107],[45.28,0.103],[45.6,0.106],[45.9,0.109],[46.2,0.104],[46.55,0.107],
[42.8,0.13],[43.1,0.134],[43.42,0.13],[43.72,0.133],[44.0,0.13],[44.28,0.134],[44.56,0.129],[44.84,0.133],[45.1,0.13],[45.38,0.126],[45.66,0.131],[46.0,0.128],[46.3,0.125],[46.6,0.129],[46.9,0.131],
[44.6,0.165],[44.9,0.17],[45.2,0.165],[45.5,0.17],[45.75,0.172],[46.05,0.176],[46.35,0.178],[46.65,0.165],[46.95,0.168],[47.2,0.175],[44.8,0.19],[45.15,0.186],[45.4,0.2],[45.7,0.195],[46.0,0.198],[46.3,0.204],[46.62,0.195],[46.92,0.21],[45.6,0.232],[45.95,0.24],[46.25,0.232],[46.6,0.242],[46.9,0.243],[45.15,0.218]];
const grayOuterBelt = [[42.53,0.339],[45.85,0.341],[46.32,0.344],[44.10,0.302],[42.68,0.285],[42.95,0.273],[42.90,0.241],[43.13,0.224],[42.84,0.217],[44.20,0.278],[44.62,0.278],[44.12,0.270],[44.35,0.266],[44.74,0.267],[44.93,0.268],[44.08,0.257],[44.76,0.255],[45.57,0.257],[45.88,0.263],[46.16,0.283],[46.75,0.294],[46.35,0.249],[46.61,0.249],[46.74,0.255],[46.78,0.261],[46.93,0.242],[47.12,0.246],[47.28,0.244],[46.97,0.236],[46.55,0.232],[46.68,0.235],[45.92,0.232],[45.26,0.236],[45.37,0.229],[44.89,0.232],
[47.44,0.093],[47.02,0.083],[47.21,0.110],[46.87,0.044],[47.25,0.044],[47.44,0.028],[46.75,0.035],[47.10,0.068],[47.14,0.056],[47.45,0.028],[46.80,0.014],[46.52,0.023],[46.05,0.024]];
const grayScattered = [[48.52,0.336],[49.04,0.344],[49.96,0.340],[48.33,0.325],[48.94,0.312],[48.71,0.303],[48.79,0.305],[49.07,0.302],[48.36,0.296],[49.78,0.305],[49.29,0.284],[49.53,0.291],[49.63,0.286],[49.55,0.286],[48.84,0.279],[48.25,0.261],[48.67,0.261],[48.75,0.256],[48.63,0.248],[48.84,0.245],[48.48,0.235],[49.09,0.243],[49.39,0.249],[49.48,0.252],[49.53,0.238],[49.55,0.237],[49.95,0.243],[49.44,0.218],[50.41,0.240],[50.57,0.241],[50.21,0.274],[50.19,0.267],[50.64,0.315],[50.64,0.305],[50.90,0.330],[51.11,0.334],[51.25,0.312],[51.38,0.305],[51.37,0.290],[51.94,0.288],[51.86,0.273],[51.96,0.312],[52.01,0.304],[52.05,0.300],[52.07,0.328],[52.14,0.323],[52.37,0.351],[53.34,0.348],[53.49,0.351],[52.39,0.309],[52.34,0.289],[52.47,0.280],[52.51,0.281],[52.19,0.276],[52.28,0.271],[52.60,0.274],[52.28,0.256],[52.73,0.257],[52.54,0.237],[52.70,0.236],[52.61,0.224],[52.11,0.228],[51.45,0.228],[51.47,0.233],[51.87,0.206],[51.04,0.208],[51.41,0.218],[51.53,0.219],[50.74,0.225],
[53.16,0.197],[52.76,0.172],[52.16,0.194],[50.44,0.165],[49.22,0.162],[48.73,0.173],[48.83,0.097],[54.48,0.164],[54.05,0.226],[54.28,0.314],[54.47,0.319],[54.45,0.285],[54.49,0.247],[53.32,0.326],[53.70,0.324],[54.11,0.322],[53.42,0.316],[53.85,0.237],[54.18,0.279],[50.69,0.032],[50.76,0.019],[49.44,0.020],[49.67,0.023],[52.16,0.035],[54.26,0.041],[49.95,0.008],
[62.71,0.214],[54.50,0.247],[56.08,0.249],[54.04,0.227],[52.53,0.237],[52.71,0.236],[52.62,0.225],[50.55,0.240],[57.75,0.164],[55.99,0.110],[57.48,0.107],[57.36,0.100],[54.25,0.041],[49.91,0.006],[48.91,0.004],[57.31,0.006],[59.79,0.006],[55.18,0.186]];
const grayFar = [[55.00,0.491],[54.17,0.441],[57.14,0.474],[57.59,0.479],[58.80,0.464],
[62.14,0.478],[63.37,0.482],[61.67,0.449],[61.97,0.440],[61.85,0.433],[63.49,0.438],[63.60,0.443],[61.56,0.423],[61.95,0.423],[63.28,0.422],[63.38,0.408],[61.97,0.406],[62.23,0.401],[61.99,0.393],[62.16,0.388],[61.54,0.376],[62.03,0.372],[62.17,0.362],[62.86,0.364],[61.79,0.332],[61.91,0.266],[62.31,0.263],[62.77,0.277],
[61.20,0.417],[61.20,0.406],[61.36,0.402],[61.18,0.392],[60.85,0.417],[60.64,0.406],[60.67,0.386],[60.38,0.389],[61.52,0.388],[61.77,0.384],[59.60,0.439],[59.77,0.427],[59.82,0.425],[60.14,0.404],[60.14,0.400],[59.50,0.404],[59.47,0.378],[59.48,0.374],[59.98,0.370],[59.58,0.364],[59.83,0.364],[59.48,0.357],[60.44,0.356],[59.81,0.334],[60.08,0.332],
[58.20,0.388],[58.33,0.388],[58.45,0.383],[58.83,0.346],[59.20,0.346],[58.28,0.344],[57.68,0.428],[56.44,0.428],[56.48,0.421],[57.34,0.422],[57.13,0.408],[57.32,0.382],[56.82,0.399],[56.99,0.375],[56.61,0.374],[56.49,0.367],[56.15,0.387],[56.11,0.366],[57.16,0.362],[57.58,0.359],[57.64,0.337],[56.66,0.350],[56.71,0.350],[56.39,0.345],[56.27,0.339],[55.89,0.333],[56.51,0.333],[56.37,0.318],[57.60,0.306],
[54.76,0.410],[54.67,0.394],[55.03,0.417],[53.71,0.374],[53.36,0.348],[53.49,0.352],[53.31,0.326],[53.41,0.316],[54.98,0.323],[55.21,0.319],[54.51,0.342],[54.89,0.331],[54.86,0.338],[54.69,0.335],[53.99,0.337],[54.78,0.300],[54.95,0.300],[55.01,0.293],[53.67,0.288],[53.73,0.282],[55.01,0.282],[55.03,0.274],
[69.56,0.536],[68.84,0.503],[72.11,0.515],[72.42,0.503],[72.42,0.498],[70.85,0.508],[71.05,0.506],[70.31,0.500],[70.03,0.488],[70.81,0.484],[72.03,0.493],[71.94,0.484],[70.38,0.464],[70.84,0.464],[71.07,0.444],[70.15,0.450],[72.34,0.469],[73.44,0.493],[73.44,0.488],[73.76,0.491],[73.91,0.509],[73.56,0.464],[72.27,0.410],[74.84,0.505],[76.55,0.510],[76.46,0.504],[76.80,0.501],[74.83,0.404],[75.65,0.389],[75.05,0.352],[75.45,0.315],[75.60,0.261],[78.01,0.457],[78.97,0.488],[79.22,0.493],
[64.13,0.506],[64.36,0.503],[65.13,0.482],[64.85,0.470],[65.00,0.470],[64.21,0.455],[64.43,0.439],[64.24,0.431],[64.21,0.420],[64.76,0.420],[65.04,0.412],[65.32,0.428],[65.39,0.419],[65.75,0.447],[67.18,0.517],[67.06,0.478],[67.18,0.468],[67.37,0.464],[67.61,0.444],[67.69,0.438],[67.85,0.438],[67.73,0.431],[68.44,0.442],[68.39,0.490],[68.48,0.494],[68.61,0.488],[66.57,0.345],[67.91,0.372],[69.49,0.338]];

// ---------- styling ----------
const FONT = '"DejaVu Sans", "Liberation Sans", sans-serif';
const BLACK = "#000000";
const AXIS_W = 2.5;
const HEX = "path://M0,-10 L8.66,-5 L8.66,5 L0,10 L-8.66,5 L-8.66,-5 Z";

function makeXAxis(position: string, major: boolean, withLabel: boolean, withLine: boolean) {
  return {
    type: "value",
    min: xMin,
    max: xMax,
    position,
    axisLine: { show: withLine, onZero: false, lineStyle: { color: BLACK, width: AXIS_W } },
    axisTick: {
      show: true,
      inside: true,
      length: major ? 75 : 37,
      customValues: major ? xMajorTicks : xMinorTicks,
      lineStyle: { color: BLACK, width: AXIS_W },
    },
    axisLabel: withLabel
      ? {
          show: true,
          customValues: xMajorTicks,
          margin: 14,
          fontSize: 54,
          color: BLACK,
          fontFamily: FONT,
          formatter: (v: number) => String(Math.round(v)),
        }
      : { show: false },
    splitLine: { show: false },
    ...(withLabel
      ? {
          name: "semi-major axis [au]",
          nameLocation: "middle",
          nameGap: 64,
          nameTextStyle: { fontSize: 54, color: BLACK, fontFamily: FONT },
        }
      : {}),
  };
}

function makeYAxis(position: string, major: boolean, withLabel: boolean, withLine: boolean) {
  return {
    type: "value",
    min: yMin,
    max: yMax,
    position,
    axisLine: { show: withLine, onZero: false, lineStyle: { color: BLACK, width: AXIS_W } },
    axisTick: {
      show: true,
      inside: true,
      length: major ? 75 : 37,
      customValues: major ? yMajorTicks : yMinorTicks,
      lineStyle: { color: BLACK, width: AXIS_W },
    },
    axisLabel: withLabel
      ? {
          show: true,
          customValues: yMajorTicks,
          margin: 27,
          fontSize: 54,
          color: BLACK,
          fontFamily: FONT,
          formatter: (v: number) => v.toFixed(1),
        }
      : { show: false },
    splitLine: { show: false },
    ...(withLabel
      ? {
          name: "eccentricity",
          nameLocation: "middle",
          nameGap: 140,
          nameRotate: 90,
          nameTextStyle: { fontSize: 54, color: BLACK, fontFamily: FONT },
        }
      : {}),
  };
}

export default function App() {
  const ref = useRef<HTMLDivElement>(null);

  useEffect(() => {
    if (!ref.current) return;
    const chart = echarts.init(ref.current, undefined, { renderer: "svg" });

    const blueData = [...blue54, ...blue43, ...blue32, ...blue53, ...blue74, ...blue95, ...blue21, ...blue52, ...blueMid, ...blueFar];
    const pinkData = [...pinkLeft, ...pinkBelt, ...pink21, ...pinkRight];
    const grayData = [
      ...grayUpper, ...grayMid, ...grayLeft, ...grayInner, ...grayBelt, ...grayBeltInfill, ...grayBeltCore, ...grayBeltDense,
      ...grayOuterBelt, ...grayScattered, ...grayFar,
      ...pinkData, ...blueData,
    ];

    const option = {
      animation: false,
      backgroundColor: "#ffffff",
      grid: { left: 273, right: 113, top: 81, bottom: 206.5, containLabel: false, outerBoundsMode: "none" },
      xAxis: [
        makeXAxis("bottom", true, true, true),
        makeXAxis("bottom", false, false, false),
        makeXAxis("top", true, false, true),
        makeXAxis("top", false, false, false),
      ],
      yAxis: [
        makeYAxis("left", true, true, true),
        makeYAxis("left", false, false, false),
        makeYAxis("right", true, false, true),
        makeYAxis("right", false, false, false),
      ],
      series: [
        {
          type: "scatter",
          name: "all",
          xAxisIndex: 0,
          yAxisIndex: 0,
          data: grayData,
          symbol: "circle",
          symbolSize: 7.5,
          itemStyle: { color: "rgba(255,255,255,0)", borderColor: "#808080", borderWidth: 2.6 },
          z: 2,
          silent: true,
          progressive: 0,
          emphasis: { disabled: true },
        },
        {
          type: "scatter",
          name: "pink",
          xAxisIndex: 0,
          yAxisIndex: 0,
          data: pinkData,
          symbol: "diamond",
          symbolSize: 19,
          itemStyle: { color: "rgba(255,20,147,0.55)", borderColor: "rgba(255,20,147,0.62)", borderWidth: 2.2 },
          z: 3,
          silent: true,
          progressive: 0,
          emphasis: { disabled: true },
        },
        {
          type: "scatter",
          name: "resonant",
          xAxisIndex: 0,
          yAxisIndex: 0,
          data: blueData,
          symbol: HEX,
          symbolKeepAspect: true,
          symbolSize: 20,
          itemStyle: { color: "rgba(0,0,128,0.6)", borderColor: "rgba(0,0,128,0.62)", borderWidth: 2.2 },
          z: 4,
          silent: true,
          progressive: 0,
          emphasis: { disabled: true },
        },
        {
          type: "custom",
          name: "mmr",
          xAxisIndex: 0,
          yAxisIndex: 0,
          data: mmrA.map((a, i) => [a, mmrTextMid[mmrRow[i]]]),
          z: 5,
          silent: true,
          clip: false,
          renderItem: (params: any, api: any) => {
            const i = params.dataIndex;
            const a = mmrA[i];
            const row = mmrRow[i];
            const p1 = api.coord([a, mmrLineLo[row]]);
            const p2 = api.coord([a, mmrLineHi[row]]);
            const pc = api.coord([a, mmrTextMid[row]]);
            return {
              type: "group",
              children: [
                {
                  type: "line",
                  shape: { x1: p1[0], y1: p1[1], x2: p2[0], y2: p2[1] },
                  style: { stroke: "#008000", lineWidth: 4.5 },
                },
                {
                  type: "text",
                  x: pc[0] - 19,
                  y: pc[1],
                  rotation: Math.PI / 2,
                  style: {
                    text: mmrLabels[i] + " MMR",
                    fill: "#008000",
                    font: 'bold 40px "DejaVu Sans", sans-serif',
                    align: "center",
                    verticalAlign: "middle",
                  },
                },
              ],
            };
          },
        },
      ],
    };

    chart.setOption(option as any);
    return () => {
      chart.dispose();
    };
  }, []);

  return (
    <div
      ref={ref}
      style={{ position: "absolute", left: 0, top: 0, width: "2854px", height: "1691px", background: "#ffffff" }}
    />
  );
}
